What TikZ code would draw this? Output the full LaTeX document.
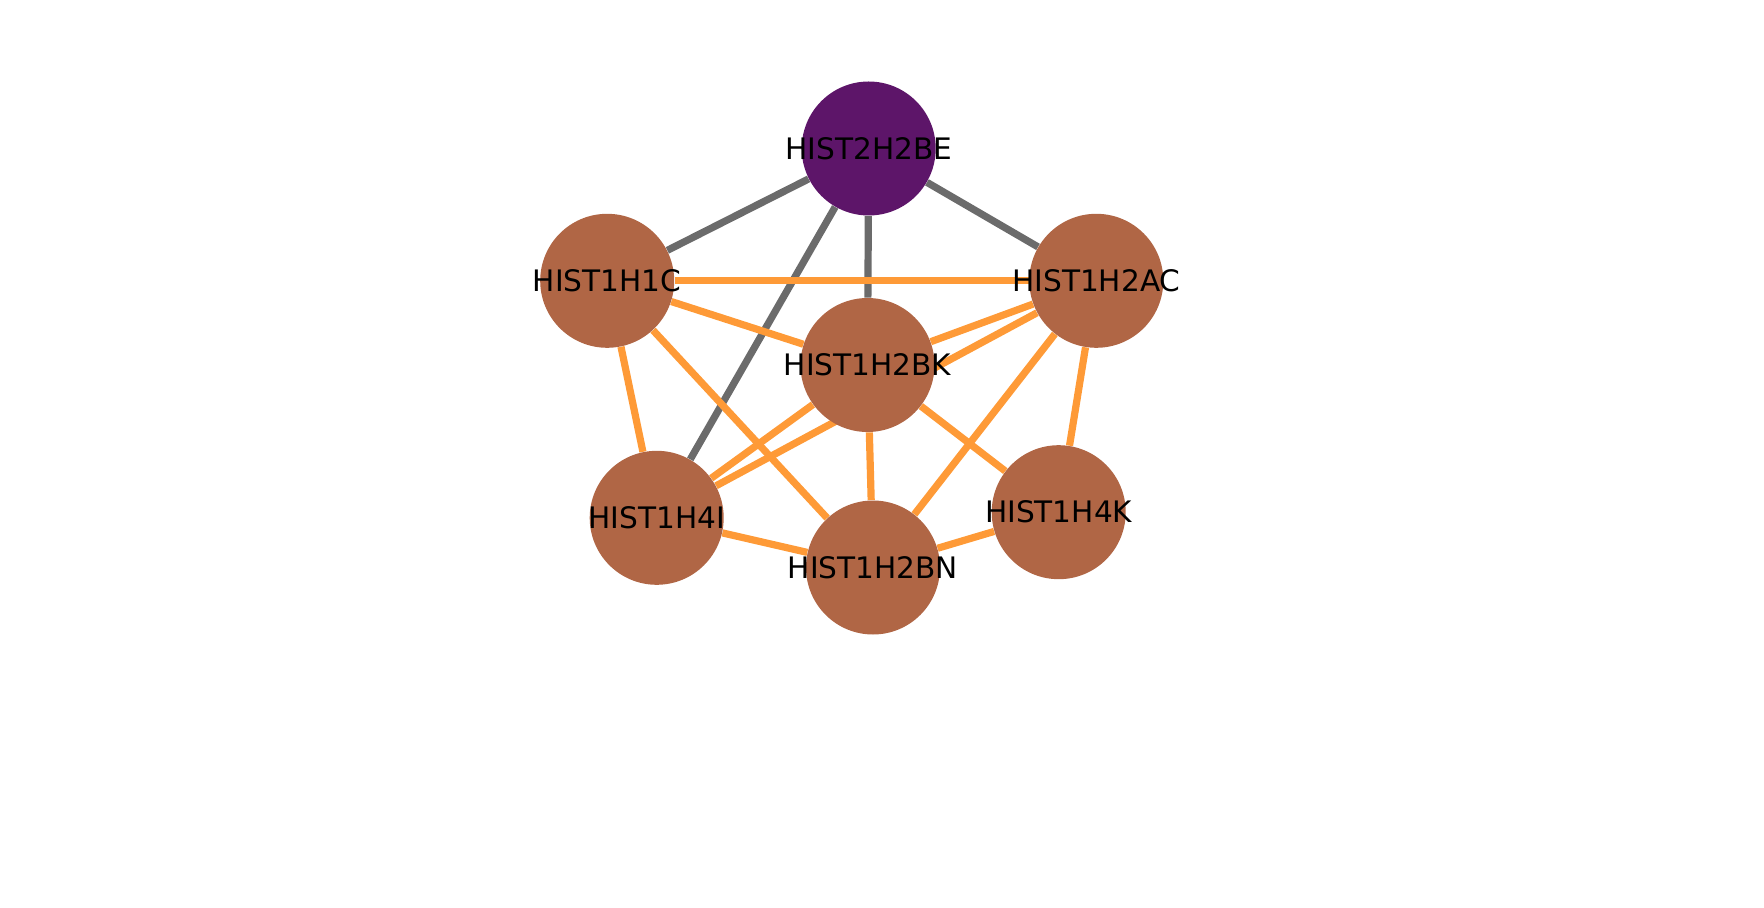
\documentclass[tikz,border=0pt]{standalone}
\usepackage{fontspec}
\setmainfont{DejaVu Sans}
\usetikzlibrary{backgrounds}
\definecolor{hubpurple}{HTML}{5D1569}
\definecolor{nodebrown}{HTML}{B06645}
\definecolor{edgeorange}{HTML}{FE9A37}
\definecolor{edgegray}{HTML}{6B6B6B}
\tikzset{
  gnode/.style={circle, minimum size=67pt, inner sep=0pt, fill=nodebrown, draw=none},
  hubnode/.style={gnode, fill=hubpurple},
  glabel/.style={font=\fontsize{14.8pt}{17pt}\selectfont, inner sep=0pt, text=black},
  grayedge/.style={draw=edgegray, line width=3.6pt},
  orangeedge/.style={draw=edgeorange, line width=3.6pt},
}
\begin{document}
\begin{tikzpicture}[x=0.5pt, y=-0.5pt]
\useasboundingbox (0,0) rectangle (1764,908);
\node[hubnode, label={[glabel]center:HIST2H2BE}] (be) at (868.7,148.5) {};
\node[gnode, label={[glabel]center:HIST1H1C}] (h1c) at (607.2,280.8) {};
\node[gnode, label={[glabel]center:HIST1H2AC}] (ac) at (1096.3,280.8) {};
\node[gnode, label={[glabel]center:HIST1H2BK}] (bk) at (867.5,365) {};
\node[gnode, label={[glabel]center:HIST1H4I}] (h4i) at (656.7,517.8) {};
\node[gnode, label={[glabel]center:HIST1H2BN}] (bn) at (873,567.5) {};
\node[gnode, label={[glabel]center:HIST1H4K}] (h4k) at (1058.7,512.2) {};
\begin{scope}[on background layer]
\draw[grayedge] (be) -- (h1c);
\draw[grayedge] (be) -- (ac);
\draw[grayedge] (be) -- (bk);
\draw[grayedge] (be) -- (h4i);
\draw[orangeedge] (h1c) -- (ac);
\draw[orangeedge] (h1c) -- (bk);
\draw[orangeedge] (h1c) -- (h4i);
\draw[orangeedge] (h1c) -- (bn);
\draw[orangeedge] (ac) -- (bk);
\draw[orangeedge] (ac) -- (h4i);
\draw[orangeedge] (ac) -- (bn);
\draw[orangeedge] (ac) -- (h4k);
\draw[orangeedge] (bk) -- (h4i);
\draw[orangeedge] (bk) -- (bn);
\draw[orangeedge] (bk) -- (h4k);
\draw[orangeedge] (h4i) -- (bn);
\draw[orangeedge] (bn) -- (h4k);
\end{scope}
\end{tikzpicture}
\end{document}
